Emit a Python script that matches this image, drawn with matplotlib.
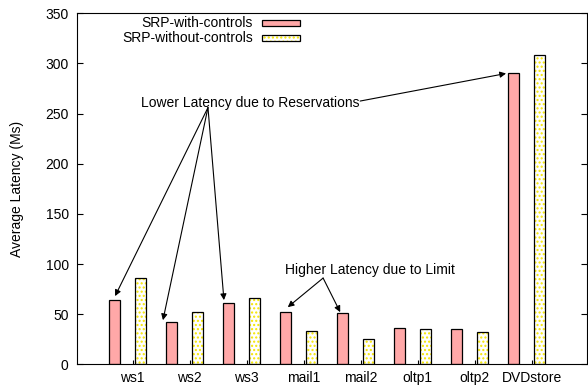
import matplotlib.pyplot as plt
from matplotlib.patches import Rectangle
import numpy as np

plt.rcParams['font.family'] = ['Liberation Sans', 'DejaVu Sans']
plt.rcParams['font.size'] = 10

workloads = ["ws1", "ws2", "ws3", "mail1", "mail2", "oltp1", "oltp2", "DVDstore"]
with_controls = [64, 42, 61, 52, 51, 36, 35, 290]
without_controls = [86, 52, 66, 33, 25, 35, 32, 308]

pink = "#ffa8a8"
x = np.arange(len(workloads))
off = 0.225
w = 0.19

fig = plt.figure(figsize=(5.88, 3.86), dpi=100)
ax = fig.add_axes([77/588, 21.7/386, 510/588, 351/386])

ax.bar(x - off, with_controls, w, color=pink, edgecolor="black", linewidth=0.9)
# dotted yellow fill first, black outline on top
ax.bar(x + off, without_controls, w, color="white", edgecolor="#f5e600",
       hatch="....", linewidth=0)
ax.bar(x + off, without_controls, w, fill=False, edgecolor="black", linewidth=0.9)

ax.set_xlim(-0.888, 8.06)
ax.set_ylim(0, 350)
ax.set_yticks(range(0, 351, 50))
ax.set_xticks(x + 0.09)
ax.set_xticklabels(workloads)
ax.tick_params(axis="y", direction="in", right=True, length=4, pad=6)
ax.tick_params(axis="x", direction="in", length=3, pad=5)
ax.set_ylabel("Average Latency (Ms)", labelpad=15)

# legend drawn by hand: label on the left, key box on the right
def ax_pt(px, py):
    return (px - 77) / 510, (364.3 - py) / 351

for i, (label, face, hatch, ec) in enumerate([
        ("SRP-with-controls", pink, None, "black"),
        ("SRP-without-controls", "white", "....", "#f5e600")]):
    py = 23 + 15 * i
    tx, ty = ax_pt(253, py)
    ax.text(tx, ty, label, transform=ax.transAxes, ha="right", va="center")
    bx, by = ax_pt(262, py + 3)
    bw = 38 / 510
    bh = 6 / 351
    ax.add_patch(Rectangle((bx, by), bw, bh, transform=ax.transAxes,
                           facecolor=face, edgecolor=ec, hatch=hatch, lw=0))
    ax.add_patch(Rectangle((bx, by), bw, bh, transform=ax.transAxes,
                           fill=False, edgecolor="black", lw=0.9))

arrow = dict(arrowstyle="-|>", color="black", lw=0.8, mutation_scale=9,
             shrinkA=0, shrinkB=0)

ax.text(0.235, 261, "Lower Latency due to Reservations", va="center")
src = (1.41, 256)
ax.annotate("", xy=(-0.22, with_controls[0] + 4), xytext=src, arrowprops=arrow)
ax.annotate("", xy=(0.62, with_controls[1] + 2), xytext=src, arrowprops=arrow)
ax.annotate("", xy=(1.69, with_controls[2] + 3), xytext=src, arrowprops=arrow)
ax.annotate("", xy=(6.64, with_controls[7]), xytext=(4.08, 262.5), arrowprops=arrow)

ax.text(2.76, 94, "Higher Latency due to Limit", va="center")
src = (3.43, 86)
ax.annotate("", xy=(2.81, with_controls[3] + 5), xytext=src, arrowprops=arrow)
ax.annotate("", xy=(3.73, with_controls[4] + 1), xytext=src, arrowprops=arrow)

fig.savefig("out.png", dpi=100)
